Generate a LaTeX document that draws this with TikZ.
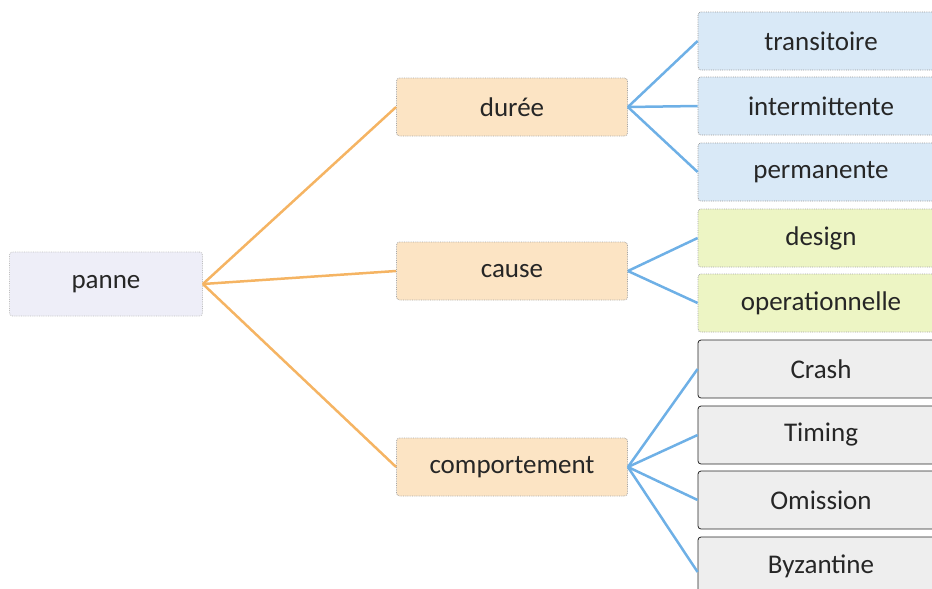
\documentclass[tikz,border=0pt]{standalone}
\usepackage{fontspec}
\setmainfont{Carlito}
\begin{document}
\begin{tikzpicture}[x=1pt,y=-1pt,
  box/.style={rectangle, rounded corners=3pt, minimum height=58pt, font=\fontsize{27}{30}\selectfont, text=black!85, line width=0.8pt},
  rootbox/.style={box, minimum width=193pt, minimum height=64pt, fill=rootfill, draw=black!25, densely dotted},
  midbox/.style={box, minimum width=231pt, fill=midfill, draw=black!35, densely dotted},
  bluebox/.style={box, minimum width=246pt, fill=bluefill, draw=black!40, densely dotted},
  greenbox/.style={box, minimum width=246pt, fill=greenfill, draw=black!35, densely dotted},
  greybox/.style={box, minimum width=246pt, fill=greyfill, draw=black!85},
  oline/.style={draw=orangeline, line width=2.5pt},
  bline/.style={draw=blueline, line width=2.5pt}]
\definecolor{rootfill}{HTML}{EEEEF8}
\definecolor{midfill}{HTML}{FCE4C4}
\definecolor{bluefill}{HTML}{D9E9F7}
\definecolor{greenfill}{HTML}{EDF5C4}
\definecolor{greyfill}{HTML}{EEEEEE}
\definecolor{orangeline}{HTML}{F5B463}
\definecolor{blueline}{HTML}{6EB0E6}
\useasboundingbox (0,0) rectangle (932,589);
\clip (0,0) rectangle (932,589);
\node[rootbox] (panne) at (106,284) {panne};
\node[midbox] (duree) at (512,107) {durée};
\node[midbox] (cause) at (512,271) {cause};
\node[midbox] (comp) at (512,467) {comportement};
\node[bluebox] (trans) at (821,41) {transitoire};
\node[bluebox] (inter) at (821,106) {intermittente};
\node[bluebox] (perm) at (821,172) {permanente};
\node[greenbox] (design) at (821,238) {design};
\node[greenbox] (oper) at (821,303) {operationnelle};
\node[greybox] (crash) at (821,369) {Crash};
\node[greybox] (timing) at (821,435) {Timing};
\node[greybox] (omis) at (821,500) {Omission};
\node[greybox] (byz) at (821,566) {Byzantine};
\draw[oline] (panne.east) -- (duree.west);
\draw[oline] (panne.east) -- (cause.west);
\draw[oline] (panne.east) -- (comp.west);
\draw[bline] (duree.east) -- (trans.west);
\draw[bline] (duree.east) -- (inter.west);
\draw[bline] (duree.east) -- (perm.west);
\draw[bline] (cause.east) -- (design.west);
\draw[bline] (cause.east) -- (oper.west);
\draw[bline] (comp.east) -- (crash.west);
\draw[bline] (comp.east) -- (timing.west);
\draw[bline] (comp.east) -- (omis.west);
\draw[bline] (comp.east) -- ([yshift=-6pt]byz.west);
\end{tikzpicture}
\end{document}
